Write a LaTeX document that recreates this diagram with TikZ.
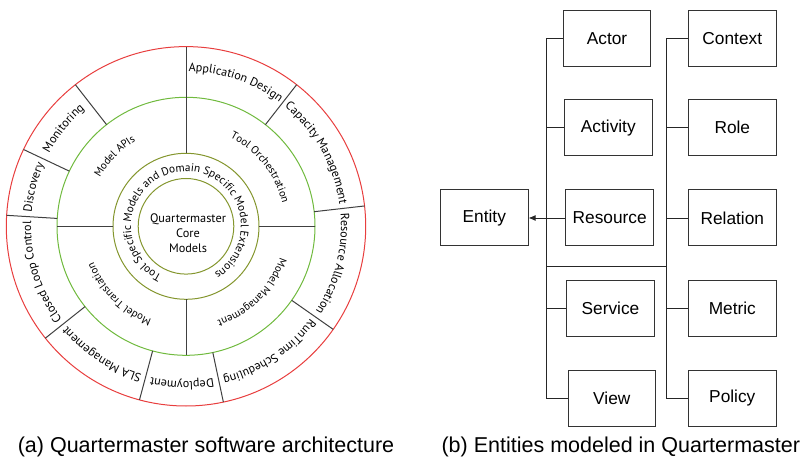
\documentclass[tikz,border=0pt]{standalone}
\usepackage{fontspec}
\setmainfont{Liberation Sans}
\newfontfamily\ringfont{PT Sans}
\usetikzlibrary{decorations.text,arrows.meta}

\definecolor{outerred}{RGB}{232,62,62}
\definecolor{ringgreen}{RGB}{112,186,62}
\definecolor{coreolive}{RGB}{132,150,46}

% curved label on a ring: radius, start angle, end angle, font size, text
\newcommand\ringlabel[5]{%
  \path[decorate,decoration={text along path,text align=center,
    text={|\ringfont\fontsize{#4}{#4}\selectfont|#5}}]
    (C) ++(#2:#1) arc[start angle=#2,end angle=#3,radius=#1];}

\begin{document}
\begin{tikzpicture}[x=1pt,y=1pt,
  entitybox/.style={draw=black!80,line width=1pt,minimum width=87.5pt,
    minimum height=56pt,inner sep=0pt,font=\fontsize{17.3}{20}\selectfont},
  link/.style={draw=black!85,line width=0.9pt},
  divider/.style={draw=black!75,line width=1pt},
  caption/.style={anchor=base,font=\fontsize{21.5}{24}\selectfont}]
\useasboundingbox (0,0) rectangle (800,458);

% ---------- (a) layered architecture ----------
\coordinate (C) at (186,231.7);

\draw[outerred,line width=1pt] (C) circle[radius=179.7];
\draw[ringgreen,line width=1pt] (C) circle[radius=129];
\draw[coreolive,line width=1pt] (C) circle[radius=73];
\draw[coreolive,line width=1pt] (C) circle[radius=47.8];

% dividers of the middle ring
\foreach \a in {0,180,-90}
  \draw[divider] (C) ++(\a:73) -- ++(\a:56);
\draw[divider] (C) ++(90:73) -- ++(90:106.7);

% dividers of the outer ring
\foreach \a in {52,6.5,-35,-78,-105,-141.5,176.5,154.7,128}
  \draw[divider] (C) ++(\a:129) -- ++(\a:50.7);

% outer ring labels
\ringlabel{155}{90}{52}{12.1}{Application Design}
\ringlabel{155}{52}{6.5}{12.1}{Capacity Management}
\ringlabel{155}{6.5}{-35}{12.1}{Resource Allocation}
\ringlabel{155}{-35}{-78}{12.1}{RunTime Scheduling}
\ringlabel{155}{-78}{-105}{12.1}{Deployment}
\ringlabel{155}{-105}{-141.5}{12.1}{SLA Management}
\ringlabel{155}{-141.5}{-183.5}{12.1}{Closed Loop Control}
\ringlabel{155}{176.5}{154.7}{12.1}{Discovery}
\ringlabel{155}{154.7}{128}{12.1}{Monitoring}

% middle ring labels
\ringlabel{99}{175.5}{95.5}{10.8}{Model APIs}
\ringlabel{99}{85}{-8}{10.8}{Tool Orchestration}
\ringlabel{99}{-2}{-88}{10.8}{Model Management}
\ringlabel{99}{-92}{-177}{10.8}{Model Translation}

% extension ring label
\ringlabel{55}{267.5}{-82.5}{11.3}{Tool Specific Models and Domain Specific Model Extensions}

% core
\node[align=center,font=\ringfont\fontsize{12.3}{15}\selectfont] (core) at (188,225.2)
  {Quartermaster\\Core\\Models};

\node[caption] (capa) at (206,6) {(a) Quartermaster software architecture};

% ---------- (b) entity hierarchy ----------
\node[entitybox] (entity)   at (484.3,240)   {Entity};
\node[entitybox] (actor)    at (607,419.5)   {Actor};
\node[entitybox] (activity) at (608.3,330.2) {Activity};
\node[entitybox] (resource) at (609.7,240)   {Resource};
\node[entitybox] (service)  at (610.5,149.8) {Service};
\node[entitybox] (view)     at (611.8,60)    {View};
\node[entitybox] (context)  at (732.3,419.5) {Context};
\node[entitybox] (role)     at (732.3,330.2) {Role};
\node[entitybox] (relation) at (732.3,240)   {Relation};
\node[entitybox] (metric)   at (732.3,149.8) {Metric};
\node[entitybox] (policy)   at (732.3,60)    {Policy};

\coordinate (busl) at (546,0);
\coordinate (busr) at (666.7,0);
\coordinate (jl) at (546,191.3);
\coordinate (jr) at (666.7,191.3);

% left bus
\draw[link] (actor.west) -- (actor.west -| busl) -- (view.west -| busl) -- (view.west);
\foreach \n in {activity,service}
  \draw[link] (\n.west) -- (\n.west -| busl);
\draw[link,-{Latex[length=7pt,width=6pt]}] (resource.west) -- (entity.east);

% right bus
\draw[link] (context.west) -- (context.west -| busr) -- (policy.west -| busr) -- (policy.west);
\foreach \n in {role,relation,metric}
  \draw[link] (\n.west) -- (\n.west -| busr);

% bridge between the buses
\draw[link] (jl) -- (jr);

\node[caption] (capb) at (620.8,6) {(b) Entities modeled in Quartermaster};
\end{tikzpicture}
\end{document}
